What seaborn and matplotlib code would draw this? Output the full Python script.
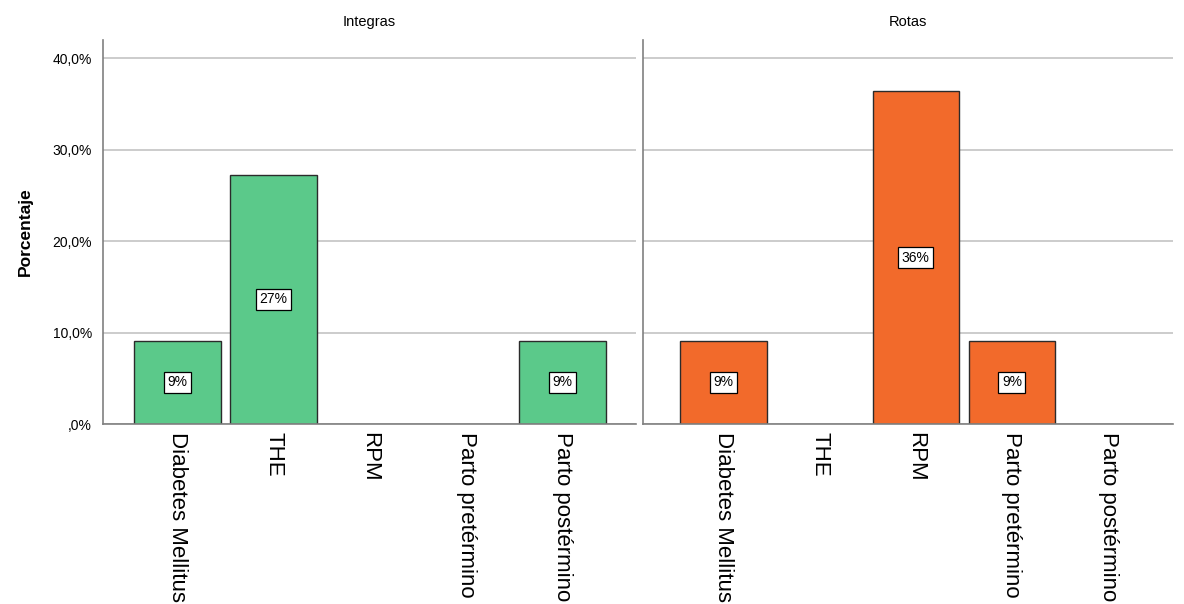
import matplotlib
matplotlib.use("Agg")
import matplotlib.pyplot as plt
import seaborn as sns
import pandas as pd
from matplotlib.ticker import FuncFormatter

categories = ["Diabetes Mellitus", "THE", "RPM", "Parto pretérmino", "Parto postérmino"]
integras = [9.09, 27.27, 0.0, 0.0, 9.09]
rotas = [9.09, 0.0, 36.36, 9.09, 0.0]
panels = ["Integras", "Rotas"]
colors = {"Integras": "#5bc98a", "Rotas": "#f26a2b"}

sns.set_style("white")
plt.rcParams["font.family"] = ["Liberation Sans", "DejaVu Sans"]
plt.rcParams["text.color"] = "black"
plt.rcParams["xtick.color"] = "black"
plt.rcParams["ytick.color"] = "black"
plt.rcParams["axes.labelcolor"] = "black"

fig = plt.figure(figsize=(11.84, 6.04), dpi=100)
ax1 = fig.add_axes([0.087, 0.298, 0.450, 0.636])
ax2 = fig.add_axes([0.543, 0.298, 0.448, 0.636])

for ax, name, vals in [(ax1, "Integras", integras), (ax2, "Rotas", rotas)]:
    df = pd.DataFrame({"cat": categories, "pct": vals})
    sns.barplot(data=df, x="cat", y="pct", ax=ax, color=colors[name],
                saturation=1, width=0.9, edgecolor="#2b2b2b", linewidth=1.0)
    for p in ax.patches:
        if p.get_height() == 0:
            p.set_visible(False)
    labels = [f"{round(v):d}%" if v > 0 else "" for v in vals]
    ax.bar_label(ax.containers[0], labels=labels, label_type="center",
                 fontsize=10, color="black",
                 bbox=dict(boxstyle="square,pad=0.25", fc="white", ec="black", lw=0.9))
    ax.set_ylim(0, 42)
    ax.set_yticks([0, 10, 20, 30, 40])
    ax.yaxis.grid(True, color="#c8c8c8", lw=1.3)
    ax.set_axisbelow(True)
    for s in ["top", "right"]:
        ax.spines[s].set_visible(False)
    ax.spines["left"].set_color("#808080")
    ax.spines["bottom"].set_color("#808080")
    ax.spines["left"].set_linewidth(1.2)
    ax.spines["bottom"].set_linewidth(1.2)
    ax.tick_params(axis="both", length=0)
    ax.tick_params(axis="x", pad=6)
    ax.set_xlabel("")
    ax.set_ylabel("")
    ax.set_title(name, fontsize=10.5, pad=10, color="black")
    for t in ax.get_xticklabels():
        t.set_rotation(-90)
        t.set_fontsize(16)
        t.set_va("top")
        t.set_ha("center")

ax1.set_xlim(-0.77, 4.76)
ax2.set_xlim(-0.84, 4.68)
ax1.yaxis.set_major_formatter(FuncFormatter(lambda v, p: (f"{v:.1f}%".replace(".", ",") if v != 0 else ",0%")))
ax1.tick_params(axis="y", labelsize=10, pad=8)
ax2.set_yticklabels([])
ax1.set_ylabel("Porcentaje", fontsize=12.5, fontweight="bold", labelpad=14)

fig.savefig("out.png", dpi=100)
